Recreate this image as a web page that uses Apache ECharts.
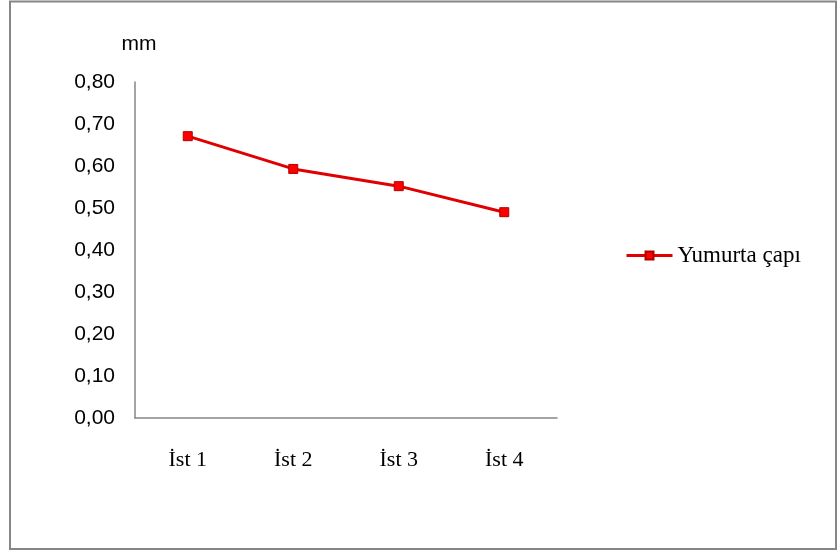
<!DOCTYPE html>
<html><head><meta charset="utf-8">
<script src="https://cdn.jsdelivr.net/npm/echarts@6/dist/echarts.min.js"></script>
<style>html,body{margin:0;padding:0;background:#fff}#c{width:838px;height:551px}</style>
</head><body><div id="c"></div>
<script>
const categories = ['İst 1', 'İst 2', 'İst 3', 'İst 4'];
const values = [0.671, 0.593, 0.552, 0.490];
const seriesName = 'Yumurta çapı';
const yTicks = { min: 0, max: 0.8, interval: 0.1 };
const yUnit = 'mm';

const chart = echarts.init(document.getElementById('c'), null, { renderer: 'canvas' });
chart.setOption({
  backgroundColor: '#fff',
  animation: false,
  graphic: [{
    type: 'rect', shape: { x: 10, y: 1.5, width: 826, height: 547.5 },
    style: { fill: 'none', stroke: '#868686', lineWidth: 2 }, silent: true
  }],
  grid: { left: 135, top: 82, width: 422, bottom: 133, containLabel: false },
  legend: {
    left: 625, top: 244, padding: 0, itemWidth: 46, itemHeight: 10, itemGap: 5,
    lineStyle: { width: 3 },
    textStyle: { fontFamily: 'Liberation Serif', fontSize: 23, color: '#000' },
    data: [{ name: seriesName }]
  },
  xAxis: {
    type: 'category', data: categories, boundaryGap: true,
    axisLine: { lineStyle: { color: '#868686', width: 1.5 } },
    axisTick: { show: false },
    axisLabel: { margin: 31, fontFamily: 'Liberation Serif', fontSize: 22, color: '#000' },
    splitLine: { show: false }
  },
  yAxis: {
    type: 'value', min: yTicks.min, max: yTicks.max, interval: yTicks.interval,
    name: yUnit, nameLocation: 'end', nameGap: 27,
    nameTextStyle: { fontFamily: 'Liberation Sans', fontSize: 21, color: '#000', padding: [0, 0, 0, 8] },
    axisLine: { show: true, lineStyle: { color: '#868686', width: 1.5 } },
    axisTick: { show: false },
    splitLine: { show: false },
    axisLabel: {
      margin: 20, fontFamily: 'Liberation Sans', fontSize: 21, color: '#000',
      formatter: v => v.toFixed(2).replace('.', ',')
    }
  },
  series: [{
    name: seriesName, type: 'line', data: values,
    symbol: 'rect', symbolSize: 9,
    lineStyle: { color: '#e00000', width: 3 },
    itemStyle: { color: '#ff0000', borderColor: '#b00000', borderWidth: 1 }
  }]
});
</script></body></html>
